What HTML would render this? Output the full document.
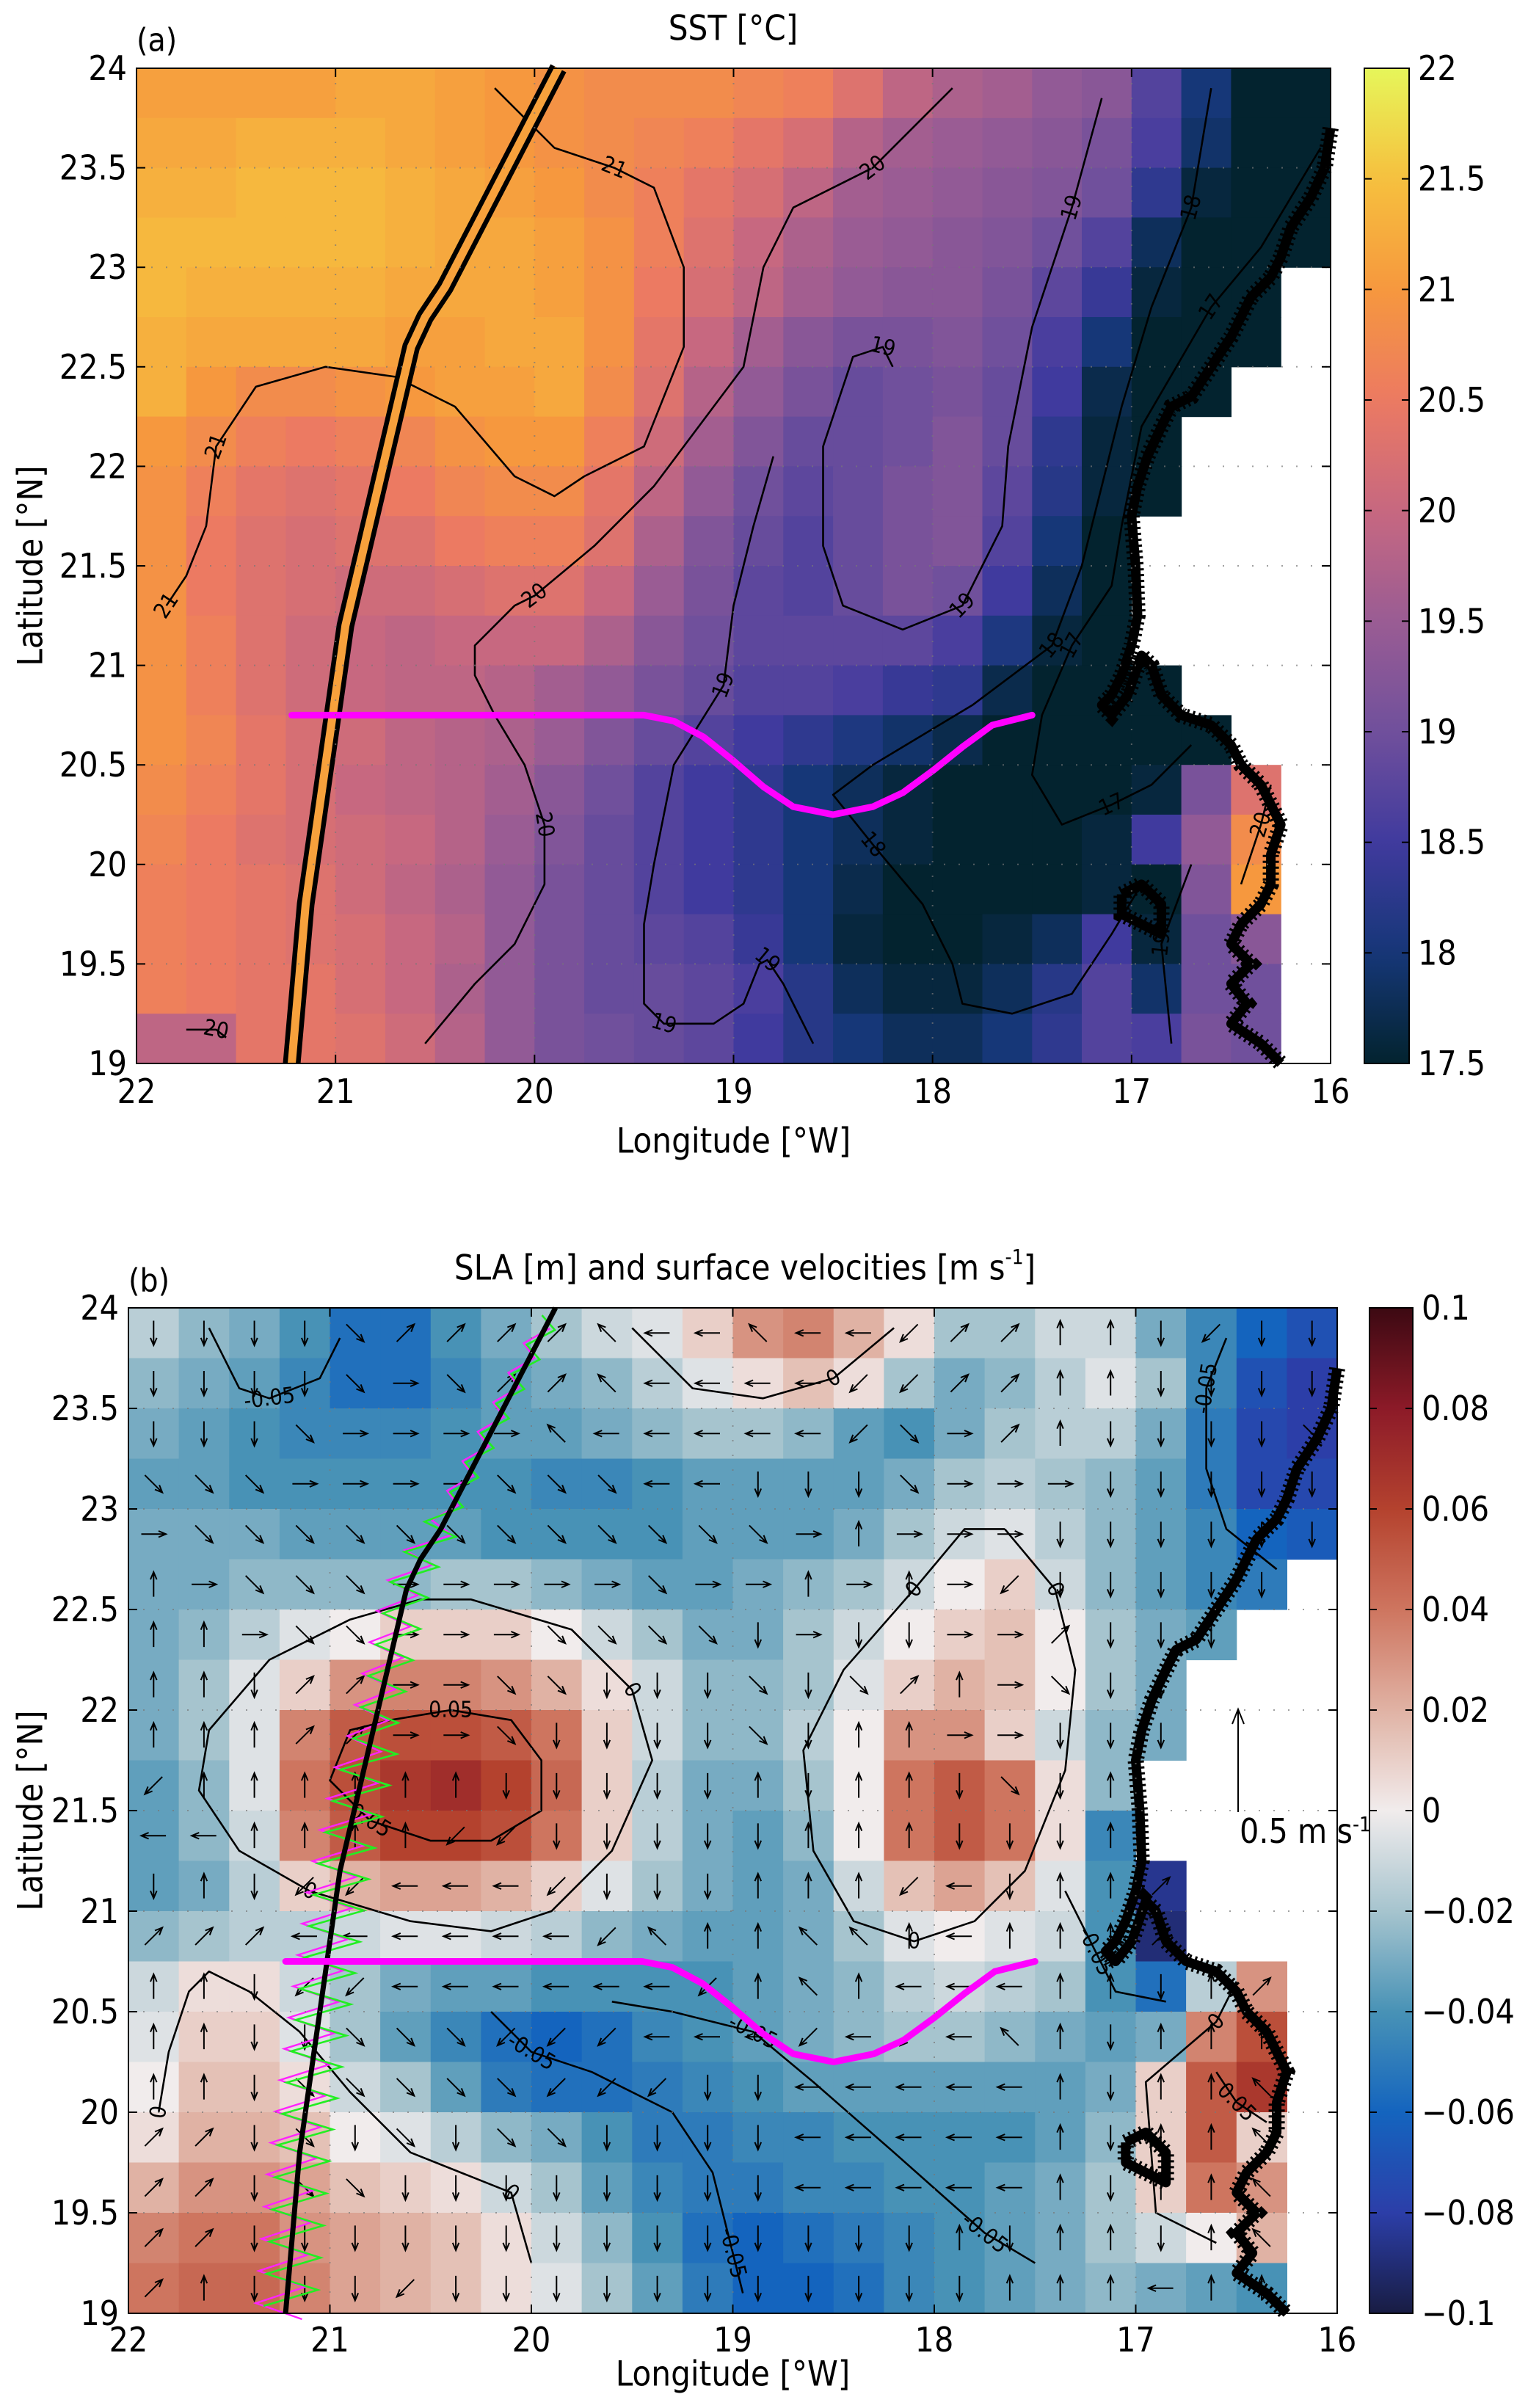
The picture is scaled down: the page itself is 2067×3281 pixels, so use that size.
<!DOCTYPE html>
<html><head><meta charset="utf-8">
<style>
html,body{margin:0;padding:0;background:#fff;}
svg{display:block;}
text{font-family:"DejaVu Sans Condensed","DejaVu Sans","Liberation Sans",sans-serif;font-stretch:condensed;fill:#000;}
</style></head>
<body>
<svg id="fig" xmlns="http://www.w3.org/2000/svg" width="2067" height="3281" viewBox="0 0 2067 3281">
<rect x="0" y="0" width="2067" height="3281" fill="#fff"/>
<g id="panelA"></g>
<g id="panelB"></g>
</svg>
<script>
// ---------- DATA ----------
const lonTicks = [22,21,20,19,18,17,16];
const latTicks = [19,19.5,20,20.5,21,21.5,22,22.5,23,23.5,24];
const latTickLabels = ["19","19.5","20","20.5","21","21.5","22","22.5","23","23.5","24"];
const sstTicks = [17.5,18,18.5,19,19.5,20,20.5,21,21.5,22];
const sstTickLabels = ["17.5","18","18.5","19","19.5","20","20.5","21","21.5","22"];
const slaTicks = [-0.1,-0.08,-0.06,-0.04,-0.02,0,0.02,0.04,0.06,0.08,0.1];
const slaTickLabels = ["\u22120.1","\u22120.08","\u22120.06","\u22120.04","\u22120.02","0","0.02","0.04","0.06","0.08","0.1"];

// SST grid, rows from north (23.75-24) to south, cols from 22W eastward (0.25 deg)
const sstLastCol = [23,23,23,23,22,22,21,20,20,19,19,19,20,21,22,22,22,22,22,22];
const sstRows = [
[21.1,21.1,21.1,21.1,21.2,21.2,21.1,21.0,20.9,20.8,20.8,20.8,20.7,20.6,20.3,19.9,19.7,19.6,19.4,19.3,18.7,18.0,17.5,17.5],
[21.2,21.2,21.3,21.3,21.3,21.2,21.1,21.0,20.9,20.8,20.7,20.6,20.4,20.2,19.8,19.6,19.5,19.4,19.3,19.1,18.6,17.9,17.5,17.5],
[21.3,21.3,21.4,21.4,21.4,21.3,21.2,21.1,21.0,20.8,20.6,20.4,20.2,19.9,19.6,19.5,19.4,19.3,19.2,19.0,18.3,17.6,17.5,17.5],
[21.4,21.4,21.4,21.4,21.4,21.3,21.2,21.2,21.1,20.9,20.6,20.3,20.0,19.7,19.5,19.4,19.3,19.2,19.0,18.7,17.8,17.5,17.5,17.5],
[21.4,21.3,21.3,21.3,21.3,21.2,21.2,21.2,21.1,20.9,20.5,20.2,19.9,19.6,19.4,19.3,19.3,19.1,18.8,18.4,17.6,17.5,17.5],
[21.3,21.2,21.2,21.2,21.2,21.1,21.1,21.2,21.2,20.9,20.4,20.0,19.6,19.3,19.1,19.1,19.2,19.0,18.6,18.0,17.5,17.5,17.5],
[21.3,21.0,20.8,20.8,20.9,21.0,21.1,21.1,21.2,20.8,20.3,19.8,19.4,19.1,18.9,19.0,19.1,18.9,18.5,17.7,17.5,17.5],
[21.0,20.8,20.6,20.5,20.6,20.7,20.9,21.0,21.0,20.6,20.1,19.6,19.2,18.9,18.9,19.0,19.2,18.9,18.3,17.6,17.5],
[20.9,20.6,20.4,20.3,20.4,20.5,20.7,20.8,20.8,20.4,19.9,19.4,19.0,18.8,18.9,19.1,19.2,18.8,18.2,17.6,17.5],
[20.9,20.5,20.3,20.2,20.3,20.3,20.5,20.6,20.6,20.3,19.7,19.2,18.9,18.7,18.9,19.1,19.2,18.7,18.0,17.5],
[20.9,20.5,20.3,20.2,20.1,20.1,20.2,20.3,20.3,20.0,19.5,19.1,18.8,18.7,18.9,19.1,19.0,18.5,17.8,17.5],
[20.9,20.6,20.3,20.1,20.0,19.9,20.0,20.0,20.0,19.7,19.3,19.0,18.8,18.8,18.8,18.8,18.6,18.1,17.6,17.5],
[20.9,20.6,20.3,20.1,20.0,19.9,19.9,19.8,19.6,19.4,19.1,18.9,18.7,18.7,18.6,18.4,18.3,17.7,17.5,17.5,17.5],
[20.9,20.7,20.4,20.2,20.1,19.9,19.8,19.7,19.5,19.2,18.9,18.7,18.5,18.3,18.1,17.9,17.7,17.5,17.5,17.5,17.5,17.5],
[20.8,20.6,20.4,20.2,20.0,19.9,19.8,19.6,19.3,19.0,18.7,18.5,18.3,18.0,17.8,17.6,17.5,17.5,17.5,17.5,17.6,19.1,20.3],
[20.7,20.5,20.3,20.2,20.1,20.0,19.8,19.5,19.2,18.9,18.7,18.5,18.3,18.0,17.8,17.6,17.5,17.5,17.5,17.6,18.5,19.4,20.8],
[20.6,20.5,20.4,20.3,20.1,19.9,19.7,19.4,19.1,18.9,18.7,18.5,18.3,18.0,17.7,17.5,17.5,17.5,17.5,17.6,17.5,19.2,21.0],
[20.6,20.5,20.4,20.3,20.2,20.0,19.8,19.4,19.1,18.9,18.8,18.7,18.4,18.0,17.6,17.5,17.5,17.6,17.8,18.5,17.6,19.0,19.3],
[20.6,20.5,20.4,20.4,20.2,20.0,19.7,19.4,19.1,18.9,18.9,18.8,18.6,18.2,17.8,17.6,17.6,17.8,18.2,18.7,17.9,19.0,19.0],
[19.9,19.9,20.4,20.4,20.3,20.1,19.8,19.4,19.1,19.0,18.9,18.8,18.5,18.2,18.0,17.8,17.8,18.0,18.3,18.7,18.6,19.1,19.0]
];

// SLA grid
const slaLastCol = [23,23,23,23,23,22,21,20,20,19,19,20,20,22,22,22,22,22,22,22];
const slaRows = [
[-0.015,-0.025,-0.03,-0.04,-0.055,-0.055,-0.04,-0.03,-0.02,-0.01,-0.005,0.01,0.03,0.035,0.02,0.005,-0.02,-0.02,-0.01,-0.01,-0.03,-0.045,-0.06,-0.07],
[-0.025,-0.03,-0.035,-0.045,-0.055,-0.055,-0.045,-0.035,-0.03,-0.025,-0.015,-0.005,0.005,0.015,0.005,-0.02,-0.03,-0.025,-0.015,-0.005,-0.02,-0.045,-0.07,-0.08],
[-0.03,-0.035,-0.04,-0.045,-0.045,-0.045,-0.04,-0.035,-0.035,-0.03,-0.025,-0.02,-0.02,-0.025,-0.035,-0.04,-0.03,-0.02,-0.015,-0.015,-0.03,-0.05,-0.075,-0.08],
[-0.035,-0.035,-0.04,-0.04,-0.04,-0.04,-0.04,-0.04,-0.045,-0.045,-0.04,-0.035,-0.035,-0.035,-0.035,-0.03,-0.02,-0.015,-0.02,-0.025,-0.035,-0.05,-0.075,-0.075],
[-0.03,-0.03,-0.03,-0.035,-0.035,-0.035,-0.035,-0.04,-0.04,-0.04,-0.04,-0.035,-0.035,-0.035,-0.03,-0.02,-0.01,-0.005,-0.015,-0.025,-0.035,-0.045,-0.06,-0.065],
[-0.03,-0.03,-0.025,-0.025,-0.025,-0.025,-0.02,-0.02,-0.025,-0.03,-0.035,-0.035,-0.03,-0.025,-0.02,-0.01,0.0,0.01,-0.01,-0.025,-0.035,-0.045,-0.05],
[-0.03,-0.025,-0.015,-0.005,0.0,0.01,0.01,0.01,0.0,-0.01,-0.02,-0.03,-0.03,-0.02,-0.01,0.0,0.01,0.015,0.0,-0.02,-0.03,-0.035],
[-0.03,-0.02,-0.005,0.01,0.03,0.035,0.035,0.03,0.02,0.005,-0.01,-0.025,-0.025,-0.02,-0.005,0.01,0.02,0.015,0.0,-0.02,-0.03],
[-0.03,-0.02,-0.005,0.035,0.05,0.055,0.055,0.05,0.04,0.01,-0.01,-0.025,-0.025,-0.015,0.0,0.03,0.03,0.01,-0.01,-0.025,-0.03],
[-0.035,-0.025,-0.005,0.04,0.055,0.065,0.07,0.06,0.045,0.01,-0.015,-0.03,-0.03,-0.02,0.0,0.04,0.05,0.04,0.005,-0.025],
[-0.035,-0.025,-0.01,0.035,0.05,0.06,0.06,0.055,0.04,0.01,-0.015,-0.03,-0.035,-0.025,0.0,0.04,0.05,0.04,0.005,-0.045],
[-0.035,-0.03,-0.015,0.01,0.02,0.025,0.025,0.02,0.01,-0.005,-0.02,-0.03,-0.035,-0.03,-0.01,0.015,0.025,0.015,-0.005,-0.04,-0.085],
[-0.025,-0.02,-0.015,-0.015,-0.01,-0.005,-0.005,-0.01,-0.015,-0.025,-0.03,-0.035,-0.035,-0.03,-0.02,-0.005,0.0,-0.005,-0.01,-0.04,-0.09],
[-0.01,0.005,0.005,-0.01,-0.02,-0.03,-0.035,-0.035,-0.04,-0.04,-0.04,-0.04,-0.035,-0.03,-0.025,-0.015,-0.01,-0.015,-0.02,-0.04,-0.055,-0.015,0.03],
[-0.005,0.01,0.01,-0.005,-0.02,-0.035,-0.045,-0.055,-0.06,-0.055,-0.045,-0.04,-0.035,-0.03,-0.025,-0.02,-0.02,-0.025,-0.03,-0.035,-0.03,0.035,0.055],
[0.0,0.015,0.015,0.005,-0.01,-0.02,-0.035,-0.05,-0.055,-0.055,-0.05,-0.045,-0.04,-0.035,-0.035,-0.035,-0.035,-0.035,-0.035,-0.03,0.01,0.05,0.065],
[0.005,0.02,0.02,0.015,0.0,-0.005,-0.015,-0.025,-0.03,-0.04,-0.05,-0.05,-0.045,-0.045,-0.04,-0.04,-0.04,-0.04,-0.035,-0.025,0.01,0.05,0.01],
[0.02,0.03,0.03,0.025,0.015,0.01,0.005,-0.01,-0.02,-0.035,-0.045,-0.05,-0.05,-0.045,-0.045,-0.04,-0.04,-0.035,-0.03,-0.02,0.01,0.04,0.03],
[0.035,0.04,0.04,0.03,0.025,0.02,0.015,0.005,-0.01,-0.025,-0.04,-0.055,-0.06,-0.055,-0.05,-0.045,-0.04,-0.035,-0.03,-0.02,-0.01,0.0,0.02],
[0.04,0.045,0.045,0.035,0.025,0.02,0.015,0.005,-0.005,-0.02,-0.035,-0.05,-0.06,-0.06,-0.055,-0.045,-0.04,-0.035,-0.03,-0.025,-0.03,-0.035,-0.04]
];

// velocity directions per cell (n,s,e,w,a=NE,b=SE,c=SW,f=NW, .=none)
const velRows = [
"ssssbaaaafwwfwwcaannscss",
"ssssbebaafwwwwccaannssss",
"sssbeeeefwwwwwcbeanssssb",
"bbbeeeebbbwwsssbeeesssss",
"ebbbbbbbbbbbbeneeessssss",
"nebbbeeeeebeenenecssssss",
"nnebbeeebbbbsesseeasss..",
"nnsaaeebbsssbsbanebsss..",
"nnnaaeebssssbsnneesssb..",
"cnnnnnnsssssnsnnsbsnn...",
"wwnnnnccsssssnnnsssnc...",
"snsccwwwcsssnnncwsnnaa..",
"aaawwwwwwcfnnffnwnnnaaa.",
"nnsccwwwwwwcnfnwwwnnsna.",
"nnssbbbcccwwwcwcwfnsnnn.",
"nnsbbbbbcccsswwwwwnsnnf.",
"aasbsbsbbsssswwwwwnsnnf.",
"aasbbsssssssswwwwwnsnnf.",
"aassssssssssssssnsnnsnf.",
"anssscsssssssssssnnnwnn."
];
const velSpeed = 0.12; // m/s typical

// coastline (lon W, lat N)
const coastLon = [16.0,16.03,16.1,16.2,16.25,16.3,16.4,16.5,16.6,16.7,16.8,16.85,16.92,16.97,17.0,16.98,16.97,17.0,17.05,17.1,17.15,17.1,17.02,16.95,16.9,16.85,16.75,16.6,16.5,16.45,16.35,16.3,16.25,16.3,16.3,16.35,16.45,16.5,16.4,16.5,16.42,16.5,16.35,16.25];
const coastLat = [23.7,23.5,23.35,23.2,23.05,22.95,22.85,22.65,22.5,22.35,22.3,22.2,22.05,21.9,21.75,21.5,21.25,21.1,20.95,20.85,20.8,20.75,20.85,21.05,21.0,20.85,20.75,20.7,20.6,20.5,20.4,20.3,20.2,20.05,19.9,19.8,19.7,19.6,19.5,19.4,19.3,19.2,19.1,19.0];
const bancLon = [17.05,16.95,16.85,16.85,16.95,17.05,17.05];
const bancLat = [19.85,19.9,19.8,19.65,19.7,19.75,19.85];

// transect (glider) lon/lat
const trLon = [21.22,21.15,20.95,20.62,20.55,20.45,19.88];
const trLat = [19.0,19.8,21.2,22.6,22.75,22.9,24.0];
// magenta section
const magLon = [21.22,20.5,19.45,19.3,19.15,19.0,18.85,18.7,18.5,18.3,18.15,18.0,17.85,17.7,17.5];
const magLat = [20.75,20.75,20.75,20.72,20.64,20.52,20.39,20.29,20.25,20.29,20.36,20.47,20.59,20.7,20.75];

// SST contours
const sstContours = [
 {lab:"21",li:[2,14,17],lon:[20.2,19.9,19.6,19.4,19.25,19.25,19.45,19.75,19.9,20.1,20.4,20.7,21.05,21.4,21.6,21.65,21.75,21.85],lat:[23.9,23.6,23.5,23.4,23.0,22.6,22.1,21.95,21.85,21.95,22.3,22.45,22.5,22.4,22.1,21.7,21.45,21.3]},
 {lab:"20",li:[1,8,14],lon:[17.9,18.3,18.7,18.85,18.95,19.1,19.4,19.7,20.0,20.1,20.3,20.3,20.2,20.05,19.95,19.95,20.1,20.3,20.55],lat:[23.9,23.5,23.3,23.0,22.5,22.3,21.9,21.6,21.35,21.3,21.1,20.95,20.75,20.5,20.2,19.9,19.6,19.4,19.1]},
 {lab:"20",li:[1],lon:[21.75,21.6,21.55],lat:[19.17,19.17,19.13]},
 {lab:"19",li:[1,5,11],lon:[17.15,17.3,17.5,17.62,17.65,17.85,18.15,18.45,18.55,18.55,18.4,18.25,18.2],lat:[23.85,23.3,22.7,22.1,21.7,21.3,21.18,21.3,21.6,22.1,22.55,22.6,22.5]},
 {lab:"19",li:[3,8,12],lon:[18.8,18.9,19.0,19.05,19.3,19.4,19.45,19.45,19.35,19.1,18.95,18.87,18.83,18.75,18.6],lat:[22.05,21.7,21.3,20.9,20.5,20.0,19.7,19.3,19.2,19.2,19.3,19.5,19.52,19.4,19.1]},
 {lab:"18",li:[1,6,10],lon:[16.6,16.7,16.9,17.05,17.15,17.25,17.4,17.8,18.3,18.5,18.3,18.05,17.9,17.85,17.6,17.3,17.1,16.95],lat:[23.9,23.3,22.8,22.3,21.9,21.5,21.1,20.8,20.5,20.35,20.1,19.8,19.5,19.3,19.25,19.35,19.65,19.9]},
 {lab:"17",li:[2,6,10],lon:[16.05,16.35,16.6,16.95,17.05,17.1,17.3,17.45,17.5,17.35,17.1,16.9,16.7],lat:[23.6,23.1,22.8,22.2,21.7,21.4,21.1,20.75,20.45,20.2,20.3,20.4,20.6]},
 {lab:"19",li:[1],lon:[16.8,16.85,16.7],lat:[19.1,19.6,20.0]},
 {lab:"20",li:[1],lon:[16.45,16.35,16.3],lat:[19.9,20.2,20.4]}
];
// SLA contours
const slaContours = [
 {lab:"0",li:[6,12],lon:[20.55,20.9,21.3,21.6,21.65,21.45,21.1,20.6,20.2,19.9,19.6,19.4,19.5,19.8,20.3,20.55],lat:[22.55,22.45,22.25,21.9,21.6,21.3,21.1,20.95,20.9,21.0,21.3,21.75,22.1,22.4,22.55,22.55]},
 {lab:"0.05",li:[1,7],lon:[20.7,20.4,20.1,19.95,19.95,20.2,20.5,20.8,21.0,20.9,20.7],lat:[21.95,22.0,21.95,21.75,21.5,21.35,21.35,21.45,21.65,21.9,21.95]},
 {lab:"0",li:[1,6,11],lon:[17.65,17.4,17.3,17.35,17.55,17.8,18.1,18.4,18.6,18.65,18.45,18.1,17.85,17.65],lat:[22.9,22.6,22.2,21.7,21.2,20.95,20.85,20.95,21.3,21.8,22.2,22.6,22.9,22.9]},
 {lab:"0",li:[3],lon:[19.5,19.2,18.85,18.5,18.2],lat:[23.9,23.6,23.55,23.65,23.9]},
 {lab:"0",li:[1,9],lon:[20.0,20.1,20.6,20.9,21.15,21.4,21.6,21.7,21.8,21.85],lat:[19.25,19.6,19.8,20.1,20.4,20.6,20.7,20.6,20.3,20.0]},
 {lab:"-0.05",li:[2],lon:[21.6,21.45,21.3,21.05,20.95],lat:[23.9,23.6,23.55,23.65,23.85]},
 {lab:"-0.05",li:[2,5],lon:[19.6,19.3,18.9,18.6,18.2,17.75,17.5],lat:[20.55,20.5,20.4,20.15,19.8,19.4,19.25]},
 {lab:"-0.05",li:[1,5],lon:[20.2,20.0,19.7,19.3,19.1,19.0,18.95],lat:[20.5,20.3,20.2,20.0,19.7,19.3,19.1]},
 {lab:"-0.05",li:[1],lon:[16.55,16.65,16.65,16.55,16.3],lat:[23.85,23.6,23.2,22.9,22.7]},
 {lab:"-0.05",li:[1],lon:[17.35,17.2,17.1,16.85],lat:[21.1,20.8,20.6,20.55]},
 {lab:"0.05",li:[1],lon:[16.6,16.5,16.35],lat:[20.2,20.05,19.95]},
 {lab:"0",li:[1],lon:[16.5,16.6,16.95,16.9,16.6],lat:[20.65,20.45,20.15,19.5,19.35]}
];

// ---------- helpers ----------
const NS = "http://www.w3.org/2000/svg";
function mk(tag, attrs, parent){const e=document.createElementNS(NS,tag);for(const k in attrs)e.setAttribute(k,attrs[k]);if(parent)parent.appendChild(e);return e;}
function lerpStops(stops, t){t=Math.max(0,Math.min(1,t));for(let i=1;i<stops.length;i++){if(t<=stops[i][0]){const a=stops[i-1],b=stops[i];const f=(t-a[0])/(b[0]-a[0]);const c=[0,1,2].map(j=>Math.round(a[1][j]+(b[1][j]-a[1][j])*f));return `rgb(${c[0]},${c[1]},${c[2]})`;}}const l=stops[stops.length-1][1];return `rgb(${l[0]},${l[1]},${l[2]})`;}
const thermal=[[0,[3,35,47]],[0.111,[22,55,120]],[0.222,[64,58,158]],[0.333,[112,80,156]],[0.444,[154,92,148]],[0.556,[199,104,128]],[0.667,[236,122,98]],[0.778,[246,152,62]],[0.889,[246,192,62]],[1,[230,246,90]]];
const balance=[[0,[24,28,67]],[0.1,[44,62,168]],[0.2,[20,100,190]],[0.3,[72,146,182]],[0.4,[166,196,206]],[0.5,[241,236,236]],[0.6,[224,178,164]],[0.7,[206,117,95]],[0.8,[180,66,46]],[0.9,[140,26,40]],[1,[60,9,18]]];

function makeAxes(P){
  P.sx = lon => P.x0 + (22-lon)/6*(P.x1-P.x0);
  P.sy = lat => P.y0 + (24-lat)/5*(P.y1-P.y0);
}
const A={x0:186,x1:1813,y0:93,y1:1449,g:document.getElementById('panelA')};
const B={x0:175,x1:1822,y0:1782,y1:3152,g:document.getElementById('panelB')};
makeAxes(A);makeAxes(B);

function drawGrid(P, rows, lastCol, cmap, vmin, vmax, name){
  const g=mk('g',{},P.g);
  
  
  rows.forEach((row,r)=>{
    row.forEach((v,c)=>{
      if(c>lastCol[r]||v==null)return;
      const lonW=22-c*0.25, latN=24-r*0.25;
      const x=P.sx(lonW), y=P.sy(latN), w=P.sx(lonW-0.25)-x, h=P.sy(latN-0.25)-y;
      const rc=mk('rect',{x:x.toFixed(1),y:y.toFixed(1),width:(w+0.6).toFixed(1),height:(h+0.6).toFixed(1),fill:lerpStops(cmap,(v-vmin)/(vmax-vmin))},g);
      
      
    });
  });
}
function polyPts(P,lons,lats){return lons.map((l,i)=>P.sx(l).toFixed(1)+','+P.sy(lats[i]).toFixed(1)).join(' ');}

function drawContours(P, list, name){
  const g=mk('g',{},P.g);
  
  
  list.forEach(c=>{
    const pl=mk('polyline',{points:polyPts(P,c.lon,c.lat),fill:'none',stroke:'#000','stroke-width':2.6,'stroke-linejoin':'round'},g);
    
    
    c.li.forEach(i=>{
      if(i>=c.lon.length)return;
      const x=P.sx(c.lon[i]), y=P.sy(c.lat[i]);
      const j=Math.min(i+1,c.lon.length-1), k=Math.max(i-1,0);
      let ang=Math.atan2(P.sy(c.lat[j])-P.sy(c.lat[k]),P.sx(c.lon[j])-P.sx(c.lon[k]))*180/Math.PI;
      if(ang>90)ang-=180; if(ang<-90)ang+=180;
      const t=mk('text',{x:0,y:0,'font-size':30,'text-anchor':'middle','dominant-baseline':'central',transform:`translate(${x.toFixed(1)},${y.toFixed(1)}) rotate(${ang.toFixed(1)})`,stroke:'none'},g);
      t.textContent=c.lab;
      
      
    });
  });
}
function drawCoast(P){
  const g=mk('g',{},P.g);
  
  
  [[coastLon,coastLat],[bancLon,bancLat]].forEach(([lo,la])=>{
    mk('polyline',{points:polyPts(P,lo,la),fill:'none',stroke:'#000','stroke-width':13,'stroke-linejoin':'round'},g);
    mk('polyline',{points:polyPts(P,lo,la),fill:'none',stroke:'#000','stroke-width':22,'stroke-dasharray':'3 5'},g);
  });
}
function drawFrame(P, title, title_x, title_y, lbl, lbl_y, xlab_y, tick_y){
  const g=P.g;
  const gg=mk('g',{},g);
  
  
  lonTicks.forEach(l=>{const x=P.sx(l);mk('line',{x1:x,x2:x,y1:P.y0,y2:P.y1,stroke:'#777','stroke-width':2,'stroke-dasharray':'2 18','stroke-opacity':0.7},gg);});
  latTicks.forEach(l=>{const y=P.sy(l);mk('line',{x1:P.x0,x2:P.x1,y1:y,y2:y,stroke:'#777','stroke-width':2,'stroke-dasharray':'2 18','stroke-opacity':0.7},gg);});
  const fr=mk('rect',{x:P.x0,y:P.y0,width:P.x1-P.x0,height:P.y1-P.y0,fill:'none',stroke:'#000','stroke-width':2},g);
  
  
  lonTicks.forEach(l=>{const x=P.sx(l);
    mk('line',{x1:x,x2:x,y1:P.y1,y2:P.y1-12,stroke:'#000','stroke-width':2},g);
    mk('line',{x1:x,x2:x,y1:P.y0,y2:P.y0+12,stroke:'#000','stroke-width':2},g);
    const t=mk('text',{x:x,y:tick_y,'font-size':46,'text-anchor':'middle','dominant-baseline':'central'},g);
    t.textContent=String(l);
    
    
  });
  latTicks.forEach((l,i)=>{const y=P.sy(l);
    mk('line',{x1:P.x0,x2:P.x0+12,y1:y,y2:y,stroke:'#000','stroke-width':2},g);
    mk('line',{x1:P.x1,x2:P.x1-12,y1:y,y2:y,stroke:'#000','stroke-width':2},g);
    const t=mk('text',{x:P.x0-13,y:y,'font-size':46,'text-anchor':'end','dominant-baseline':'central'},g);
    t.textContent=latTickLabels[i];
    
    
  });
  const tt=mk('text',{x:title_x,y:title_y,'font-size':47,'text-anchor':'middle','dominant-baseline':'central'},g);
  tt.innerHTML=title;
  
  
  const pl=mk('text',{x:P.x0,y:lbl_y,'font-size':44,'text-anchor':'start','dominant-baseline':'central'},g);
  pl.textContent=lbl;
  
  
  const xl=mk('text',{x:(P.x0+P.x1)/2,y:xlab_y,'font-size':47,'text-anchor':'middle','dominant-baseline':'central'},g);
  xl.textContent='Longitude [°W]';
  
  
  const cy=(P.y0+P.y1)/2;
  const yl=mk('text',{x:0,y:0,'font-size':47,'text-anchor':'middle','dominant-baseline':'central',transform:`translate(42,${cy}) rotate(-90)`},g);
  yl.textContent='Latitude [°N]';
  
  
}
function drawColorbar(P, cx0, cx1, cmap, ticks, labels, vmin, vmax, gid, name){
  const g=mk('g',{},P.g);
  
  
  const defs=mk('defs',{},g);
  const lg=mk('linearGradient',{id:gid,x1:0,y1:1,x2:0,y2:0},defs);
  for(let i=0;i<=40;i++){const t=i/40;mk('stop',{offset:t,'stop-color':lerpStops(cmap,t)},lg);}
  mk('rect',{x:cx0,y:P.y0,width:cx1-cx0,height:P.y1-P.y0,fill:`url(#${gid})`,stroke:'#000','stroke-width':2},g);
  ticks.forEach((v,i)=>{
    const y=P.y1-(v-vmin)/(vmax-vmin)*(P.y1-P.y0);
    mk('line',{x1:cx0,x2:cx0+10,y1:y,y2:y,stroke:'#000','stroke-width':2},g);
    mk('line',{x1:cx1,x2:cx1-10,y1:y,y2:y,stroke:'#000','stroke-width':2},g);
    const t=mk('text',{x:cx1+12,y:y,'font-size':46,'text-anchor':'start','dominant-baseline':'central'},g);
    t.textContent=labels[i];
    
    
  });
}

// ---------- PANEL A ----------
drawGrid(A, sstRows, sstLastCol, thermal, 17.5, 22, 'sst-heatmap');
drawContours(A, sstContours, 'sst-contours');
drawCoast(A);
(function(){
  const g=mk('g',{},A.g);
  
  
  mk('polyline',{points:polyPts(A,trLon,trLat),fill:'none',stroke:'#000','stroke-width':24,'stroke-linejoin':'round'},g);
  mk('polyline',{points:polyPts(A,trLon,trLat),fill:'none',stroke:'#f7a13c','stroke-width':11,'stroke-linejoin':'round'},g);
  const m=mk('polyline',{points:polyPts(A,magLon,magLat),fill:'none',stroke:'#ff00ff','stroke-width':9,'stroke-linecap':'round','stroke-linejoin':'round'},A.g);
  
  
})();
drawFrame(A,'SST [°C]',999,39,'(a)',55,1555,1487);
drawColorbar(A,1859,1920,thermal,sstTicks,sstTickLabels,17.5,22,'gA','sst-colorbar');

// ---------- PANEL B ----------
drawGrid(B, slaRows, slaLastCol, balance, -0.1, 0.1, 'sla-heatmap');
drawContours(B, slaContours, 'sla-contours');
drawCoast(B);
(function(){
  const g=mk('g',{},B.g);
  
  
  const dirs={n:[0,1],s:[0,-1],e:[1,0],w:[-1,0],a:[0.707,0.707],b:[0.707,-0.707],c:[-0.707,-0.707],f:[-0.707,0.707]};
  const pxPerMs=280;
  velRows.forEach((row,r)=>{
    for(let c=0;c<row.length;c++){
      const d=dirs[row[c]]; if(!d)continue;
      if(c>slaLastCol[r])continue;
      const cx=B.sx(22-c*0.25-0.125), cy=B.sy(24-r*0.25-0.125);
      const L=velSpeed*pxPerMs;
      const x1=cx-d[0]*L/2, y1=cy+d[1]*L/2, x2=cx+d[0]*L/2, y2=cy-d[1]*L/2;
      const ang=Math.atan2(y2-y1,x2-x1);
      const h=11;
      const p=`M${x1.toFixed(1)},${y1.toFixed(1)} L${x2.toFixed(1)},${y2.toFixed(1)} M${(x2-h*Math.cos(ang-0.4)).toFixed(1)},${(y2-h*Math.sin(ang-0.4)).toFixed(1)} L${x2.toFixed(1)},${y2.toFixed(1)} L${(x2-h*Math.cos(ang+0.4)).toFixed(1)},${(y2-h*Math.sin(ang+0.4)).toFixed(1)}`;
      const ar=mk('path',{d:p,fill:'none',stroke:'#000','stroke-width':2},g);
      
      
    }
  });
  const rx=1687, ry2=2329, ry1=ry2+0.5*pxPerMs;
  const ra=mk('path',{d:`M${rx},${ry1} L${rx},${ry2} M${rx-8},${ry2+20} L${rx},${ry2} L${rx+8},${ry2+20}`,fill:'none',stroke:'#000','stroke-width':2},B.g);
  
  
  const rt=mk('text',{x:1689,y:2511,'font-size':46},B.g);
  rt.innerHTML='0.5 m s<tspan dy="-16" font-size="28">-1</tspan>';
  
  
})();
(function(){
  const g=mk('g',{},B.g);
  
  
  const zg=[], zm=[];
  for(let i=0;i<trLon.length-1;i++){
    const n=Math.round(Math.hypot(trLon[i+1]-trLon[i],trLat[i+1]-trLat[i])/0.08);
    for(let k=0;k<n;k++){
      const f=k/n, lo=trLon[i]+(trLon[i+1]-trLon[i])*f, la=trLat[i]+(trLat[i+1]-trLat[i])*f;
      const x=B.sx(lo), y=B.sy(la), s=(k%2?1:-1);
      const amp = (la>22.9)?14:(la>21.8?28:36);
      zg.push((x+s*amp+6).toFixed(1)+','+(y-10).toFixed(1));
      zm.push((x-s*amp*0.9-10).toFixed(1)+','+(y+8).toFixed(1));
    }
  }
  mk('polyline',{points:zm.join(' '),fill:'none',stroke:'#ff22ff','stroke-width':2.4},g);
  mk('polyline',{points:zg.join(' '),fill:'none',stroke:'#22ee22','stroke-width':2.6},g);
  mk('polyline',{points:polyPts(B,trLon,trLat),fill:'none',stroke:'#000','stroke-width':7,'stroke-linejoin':'round'},g);
  const m=mk('polyline',{points:polyPts(B,magLon,magLat),fill:'none',stroke:'#ff00ff','stroke-width':9,'stroke-linecap':'round','stroke-linejoin':'round'},B.g);
  
  
})();
drawFrame(B,'SLA [m] and surface velocities [m s<tspan dy="-16" font-size="28">-1</tspan><tspan dy="16">]</tspan>',1015,1728,'(b)',1745,3235,3188);
drawColorbar(B,1866,1925,balance,slaTicks,slaTickLabels,-0.1,0.1,'gB','sla-colorbar');
</script>
</body></html>
